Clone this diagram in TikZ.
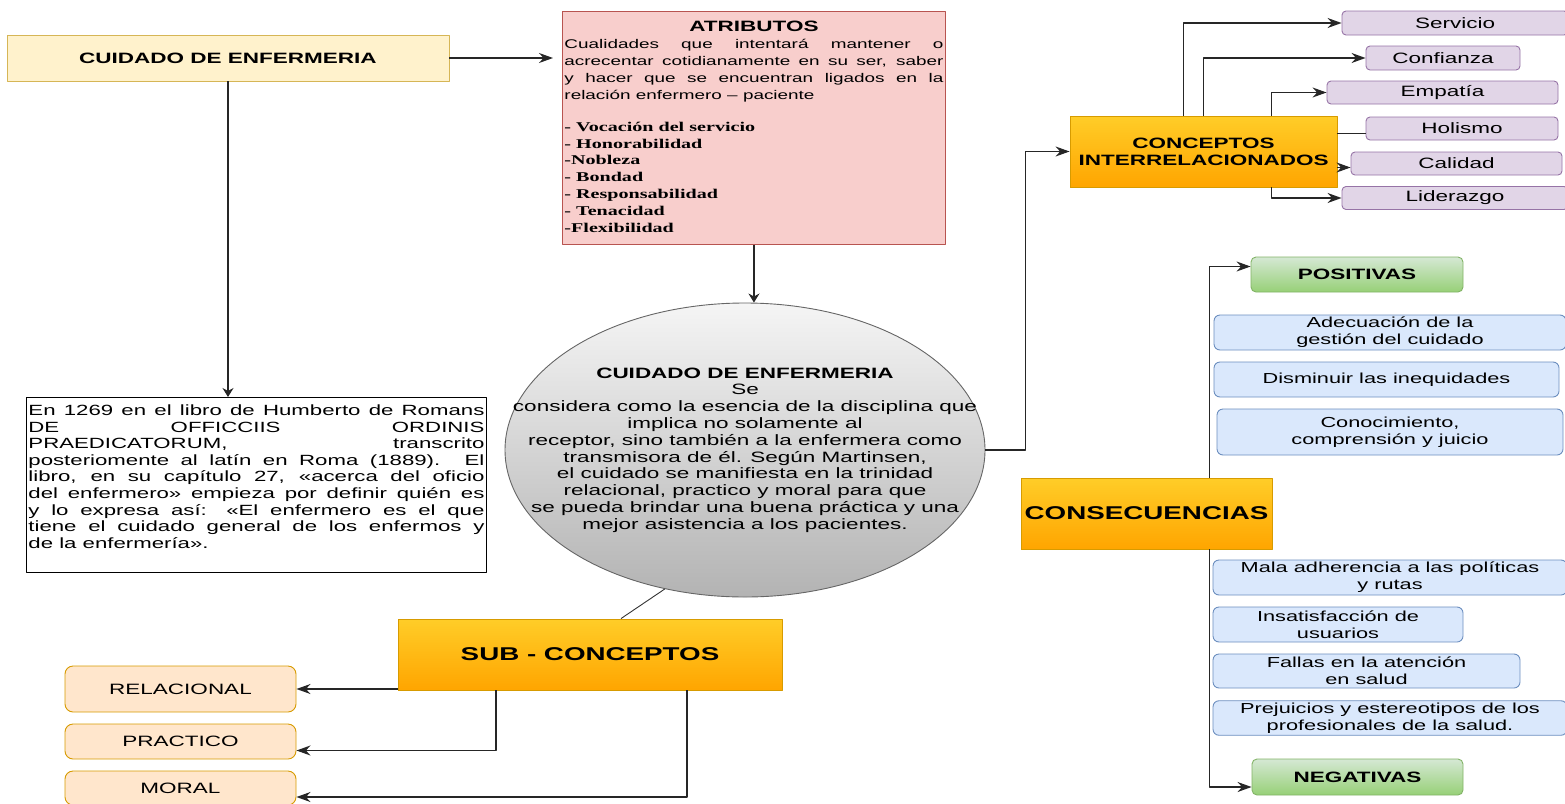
\documentclass[tikz,border=0pt]{standalone}
\usepackage{fontspec}
\setmainfont{Liberation Sans}[FakeStretch=1.5]
\newfontfamily\listfont{Liberation Serif}[FakeStretch=1.5]
\usetikzlibrary{arrows.meta,shapes.geometric}
\definecolor{creamfill}{HTML}{FFF2CC}
\definecolor{creamline}{HTML}{D6B656}
\definecolor{rosefill}{HTML}{F8CECC}
\definecolor{roseline}{HTML}{B85450}
\definecolor{ambertop}{HTML}{FFCD28}
\definecolor{amberbot}{HTML}{FFA500}
\definecolor{amberline}{HTML}{D79B00}
\definecolor{leaftop}{HTML}{D5E8D4}
\definecolor{leafbot}{HTML}{97D077}
\definecolor{leafline}{HTML}{82B366}
\definecolor{skyfill}{HTML}{DAE8FC}
\definecolor{skyline}{HTML}{6C8EBF}
\definecolor{lilacfill}{HTML}{E1D5E7}
\definecolor{lilacline}{HTML}{9673A6}
\definecolor{peachfill}{HTML}{FFE6CC}
\definecolor{ovaltop}{HTML}{F5F5F5}
\definecolor{ovalbot}{HTML}{B3B3B3}
\definecolor{ovalline}{HTML}{666666}
\tikzset{
  every picture/.style={
    line join=round,
    >={Stealth[length=14pt,width=10pt]},   % tips end horizontally here
  },
  down/.style={-{Stealth[length=9pt,width=11pt]}},  % the two vertical arrows
  link/.style={draw=black!85, line width=1.3pt},
  card/.style={draw, rectangle, inner sep=2pt, align=center, line width=0.9pt,
    font=\fontsize{15}{17}\selectfont},
  amber/.style={card, top color=ambertop, bottom color=amberbot, draw=amberline,
    font=\bfseries\fontsize{15}{17}\selectfont},
  lilac/.style={card, rounded corners=4pt, fill=lilacfill, draw=lilacline},
  sky/.style={card, rounded corners=6pt, fill=skyfill, draw=skyline,
    font=\fontsize{14.5}{17}\selectfont},
  leaf/.style={card, rounded corners=5pt, top color=leaftop, bottom color=leafbot,
    draw=leafline, font=\bfseries\fontsize{15}{17}\selectfont},
  peach/.style={card, rounded corners=8pt, fill=peachfill, draw=amberline},
}
\begin{document}
\begin{tikzpicture}[x=1pt,y=-1pt]
\useasboundingbox (0,0) rectangle (1565,803);
% left column
\node[card, fill=creamfill, draw=creamline, font=\bfseries\fontsize{15}{17}\selectfont,
  minimum width=442pt, minimum height=46pt] (cui) at (228,58) {CUIDADO DE ENFERMERIA};
\node[card, draw=black, fill=white, anchor=north west, align=justify, text width=456pt,
  inner xsep=2pt, inner ysep=4pt, text height=14pt, text depth=153pt,
  font=\fontsize{14.8}{16.6}\selectfont] (hist) at (26,397)
  {\noindent En 1269 en el libro de Humberto de Romans\linebreak
  DE OFFICCIIS ORDINIS\linebreak
  PRAEDICATORUM, transcrito\linebreak
  posteriomente al latín en Roma (1889). El\linebreak
  libro, en su capítulo 27, «acerca del oficio\linebreak
  del enfermero» empieza por definir quién es\linebreak
  y lo expresa así: «El enfermero es el que\linebreak
  tiene el cuidado general de los enfermos y\linebreak
  de la enfermería».};
% attributes
\node[card, fill=rosefill, draw=roseline, anchor=north west, align=justify, text width=379pt,
  inner xsep=2pt, inner ysep=4pt, text height=16pt, text depth=209pt,
  font=\fontsize{12.6}{17}\selectfont] (atr) at (562,11)
  {{\centering\bfseries\fontsize{15}{17}\selectfont ATRIBUTOS\par}
  \noindent Cualidades que intentará mantener o\linebreak
  acrecentar cotidianamente en su ser, saber\linebreak
  y hacer que se encuentran ligados en la\linebreak
  relación enfermero – paciente\par
  \vspace{15pt}
  {\raggedright\listfont\bfseries\fontsize{13.4}{16.8}\selectfont
  - Vocación del servicio\\
  - Honorabilidad\\
  -Nobleza\\
  - Bondad\\
  - Responsabilidad\\
  - Tenacidad\\
  -Flexibilidad\par}};
% central oval
\node[ellipse, draw=ovalline, line width=0.9pt, top color=ovaltop, bottom color=ovalbot,
  minimum width=480pt, minimum height=294pt, inner sep=0pt, text height=0pt, text depth=0pt,
  font=\fontsize{15}{16.8}\selectfont] (ell) at (745,450)
  {\makebox[0pt]{\raisebox{-4pt}{\begin{tabular}{@{}c@{}}
  \textbf{CUIDADO DE ENFERMERIA}\\
  Se\\
  considera como la esencia de la disciplina que\\
  implica no solamente al\\
  receptor, sino también a la enfermera como\\
  transmisora de él. Según Martinsen,\\
  el cuidado se manifiesta en la trinidad\\
  relacional, practico y moral para que\\
  se pueda brindar una buena práctica y una\\
  mejor asistencia a los pacientes.
  \end{tabular}}}};
% sub concepts
\node[amber, font=\bfseries\fontsize{18.5}{20}\selectfont,
  minimum width=384pt, minimum height=71pt] (sub) at (590,654.5) {SUB - CONCEPTOS};
\node[peach, minimum width=231pt, minimum height=46pt] (rel) at (180.5,689) {RELACIONAL};
\node[peach, minimum width=231pt, minimum height=35pt] (pra) at (180.5,741.5) {PRACTICO};
\node[peach, minimum width=231pt, minimum height=34pt] (mor) at (180.5,788) {MORAL};
% related concepts
\node[amber, minimum width=267pt, minimum height=71pt] (con) at (1203.5,151.5)
  {CONCEPTOS\\INTERRELACIONADOS};
\node[lilac, minimum width=226pt, minimum height=24pt] (ser) at (1455,23) {Servicio};
\node[lilac, minimum width=154pt, minimum height=24pt] (conf) at (1443,58) {Confianza};
\node[lilac, minimum width=231pt, minimum height=23pt] (emp) at (1442.5,92.5) {Empatía};
\node[lilac, minimum width=192pt, minimum height=23pt] (hol) at (1462,128.5) {Holismo};
\node[lilac, minimum width=211pt, minimum height=23pt] (cal) at (1456.5,163.5) {Calidad};
\node[lilac, minimum width=226pt, minimum height=23pt] (lid) at (1455,198) {Liderazgo};
% consequences
\node[amber, font=\bfseries\fontsize{18.5}{20}\selectfont, inner sep=0pt,
  minimum width=251pt, minimum height=71pt] (cons) at (1146.5,513.5) {CONSECUENCIAS};
\node[leaf, minimum width=212pt, minimum height=35pt] (pos) at (1357,274.5) {POSITIVAS};
\node[sky, minimum width=352pt, minimum height=35pt] (ade) at (1390,332.5)
  {Adecuación de la\\gestión del cuidado};
\node[sky, minimum width=345pt, minimum height=35pt] (dis) at (1386.5,379.5)
  {Disminuir las inequidades};
\node[sky, minimum width=346pt, minimum height=46pt] (coc) at (1390,432)
  {Conocimiento,\\comprensión y juicio};
\node[sky, minimum width=354pt, minimum height=35pt] (mal) at (1390,577.5)
  {Mala adherencia a las políticas\\y rutas};
\node[sky, minimum width=250pt, minimum height=35pt] (ins) at (1338,624.5)
  {Insatisfacción de\\usuarios};
\node[sky, minimum width=307pt, minimum height=34pt] (fal) at (1366.5,671)
  {Fallas en la atención\\en salud};
\node[sky, minimum width=354pt, minimum height=34pt] (pre) at (1390,718)
  {Prejuicios y estereotipos de los\\profesionales de la salud.};
\node[leaf, minimum width=211pt, minimum height=36pt] (neg) at (1357.5,777) {NEGATIVAS};
% connectors
\draw[link,->,shorten >=9pt] (cui.east) -- (atr.west |- cui.east);
\draw[link,down] (cui.south) -- (cui.south |- hist.north);
\draw[link,down] (atr.south) -- (atr.south |- ell.north);
\draw[link,->] (ell.east) -- ++(40,0) |- (con.west);
\draw[draw=black!80, line width=0.9pt] (ell.240) -- ([xshift=31pt]sub.north);
\draw[link,->] (sub.south west |- rel.east) -- (rel.east);
\draw[link,->] ([xshift=-94pt]sub.south) |- ([yshift=-9pt]pra.east);
\draw[link,->] ([xshift=97pt]sub.south) |- ([yshift=-9pt]mor.east);
\draw[link,->] ([xshift=-20pt]con.north) |- (ser.west);
\draw[link,->] (con.north) |- (conf.west);
\draw[link,->] ([xshift=68pt]con.north) |- (emp.west);
\draw[link] ([yshift=-5pt]hol.west -| con.east) -- ([yshift=-5pt]hol.west);
\draw[link,->] ([yshift=-4pt]cal.west -| con.east) -- ([yshift=-4pt]cal.west);
\draw[link,->] ([xshift=68pt]con.south) |- (lid.west);
\draw[link,->] ([xshift=63pt]cons.north) |- ([yshift=8pt]pos.west);
\draw[link,->] ([xshift=63pt]cons.south) |- ([yshift=-10pt]neg.west);
\end{tikzpicture}
\end{document}
